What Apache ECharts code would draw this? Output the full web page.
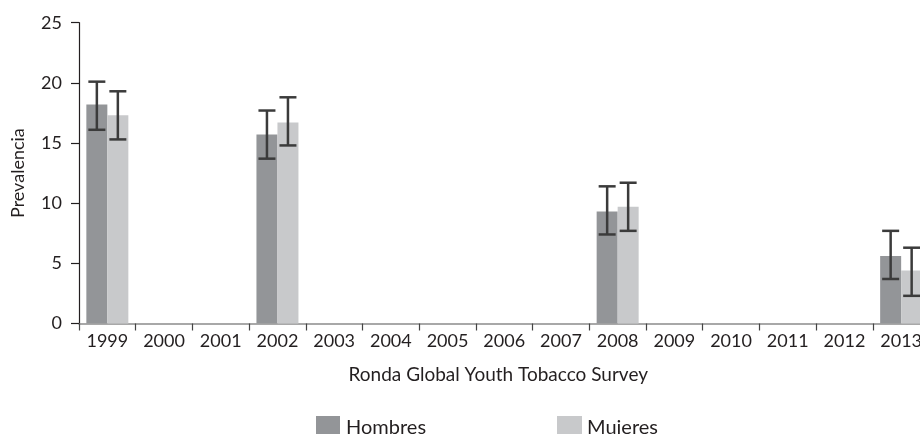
<!DOCTYPE html>
<html>
<head>
<meta charset="utf-8">
<script src="https://cdn.jsdelivr.net/npm/echarts@6/dist/echarts.min.js"></script>
<style>
html,body{margin:0;padding:0;background:#fff;}
#chart{width:920px;height:434px;}
</style>
</head>
<body>
<div id="chart"></div>
<script>
const categories = ['1999','2000','2001','2002','2003','2004','2005','2006','2007','2008','2009','2010','2011','2012','2013'];
const hombres     = [18.2, null, null, 15.7, null, null, null, null, null, 9.3, null, null, null, null, 5.6];
const hombresLow  = [16.1, null, null, 13.7, null, null, null, null, null, 7.4, null, null, null, null, 3.7];
const hombresHigh = [20.1, null, null, 17.7, null, null, null, null, null, 11.4, null, null, null, null, 7.7];
const mujeres     = [17.3, null, null, 16.7, null, null, null, null, null, 9.7, null, null, null, null, 4.4];
const mujeresLow  = [15.3, null, null, 14.8, null, null, null, null, null, 7.7, null, null, null, null, 2.3];
const mujeresHigh = [19.3, null, null, 18.8, null, null, null, null, null, 11.7, null, null, null, null, 6.3];
const yTicks = [0, 5, 10, 15, 20, 25];

const textColor = '#231f20';
const font = 'Lato';

function errData(low, high, side) {
  const out = [];
  low.forEach((l, i) => {
    if (l !== null && high[i] !== null) out.push([i, l, high[i], side]);
  });
  return out;
}

const BAR_W = 21;
function renderErr(params, api) {
  const idx = api.value(0);
  const side = api.value(3);
  const lo = api.coord([idx, api.value(1)]);
  const hi = api.coord([idx, api.value(2)]);
  const x = lo[0] + side * BAR_W / 2;
  const half = 8.5;
  const style = { stroke: '#3b3b3b', lineWidth: 2.5 };
  return {
    type: 'group',
    children: [
      { type: 'line', shape: { x1: x, y1: hi[1], x2: x, y2: lo[1] }, style },
      { type: 'line', shape: { x1: x - half, y1: hi[1], x2: x + half, y2: hi[1] }, style },
      { type: 'line', shape: { x1: x - half, y1: lo[1], x2: x + half, y2: lo[1] }, style }
    ]
  };
}

const chart = echarts.init(document.getElementById('chart'), null, { renderer: 'canvas' });
chart.setOption({
  animation: false,
  backgroundColor: '#ffffff',
  textStyle: { fontFamily: font, color: textColor },
  grid: { left: 79, width: 850.5, top: 22.7, height: 300.8, containLabel: false, outerBoundsMode: 'none' },
  legend: [
    {
      data: ['Hombres'], left: 311, top: 411, itemWidth: 24, itemHeight: 23, itemGap: 0,
      icon: 'rect',
      textStyle: { fontFamily: font, fontSize: 20, color: textColor, padding: [0, 0, 0, 1] }
    },
    {
      data: ['Mujeres'], left: 552, top: 411, itemWidth: 25, itemHeight: 23, itemGap: 0,
      icon: 'rect',
      textStyle: { fontFamily: font, fontSize: 20, color: textColor, padding: [0, 0, 0, 0] }
    }
  ],
  xAxis: {
    type: 'category',
    data: categories,
    boundaryGap: true,
    name: 'Ronda Global Youth Tobacco Survey',
    nameLocation: 'middle',
    nameGap: 42,
    nameTextStyle: { fontFamily: font, fontSize: 19, color: textColor, padding: [0, 12, 0, 0] },
    axisLine: { show: true, lineStyle: { color: '#8c8c8c', width: 1.5 } },
    axisTick: { show: true, length: 7, lineStyle: { color: '#444', width: 1.2 } },
    axisLabel: { fontFamily: font, fontSize: 18, color: textColor, margin: 9, interval: 0, hideOverlap: false },
    splitLine: { show: false }
  },
  yAxis: {
    type: 'value',
    min: yTicks[0],
    max: yTicks[yTicks.length - 1],
    interval: 5,
    name: 'Prevalencia',
    nameLocation: 'middle',
    nameGap: 52,
    nameTextStyle: { fontFamily: font, fontSize: 18, color: textColor },
    axisLine: { show: true, lineStyle: { color: '#231f20', width: 1.2 } },
    axisTick: { show: true, length: 8, lineStyle: { color: '#231f20', width: 1.2 } },
    axisLabel: { fontFamily: font, fontSize: 18, color: textColor, margin: 17 },
    splitLine: { show: false }
  },
  series: [
    {
      name: 'Hombres', type: 'bar', data: hombres, barWidth: BAR_W, barGap: '0%',
      itemStyle: { color: '#939598' }
    },
    {
      name: 'Mujeres', type: 'bar', data: mujeres, barWidth: BAR_W, barGap: '0%',
      itemStyle: { color: '#c8c9cb' }
    },
    {
      type: 'custom', renderItem: renderErr, data: errData(hombresLow, hombresHigh, -1),
      encode: { x: 0, y: [1, 2] }, z: 10, silent: true
    },
    {
      type: 'custom', renderItem: renderErr, data: errData(mujeresLow, mujeresHigh, 1),
      encode: { x: 0, y: [1, 2] }, z: 10, silent: true
    }
  ]
});
</script>
</body>
</html>
